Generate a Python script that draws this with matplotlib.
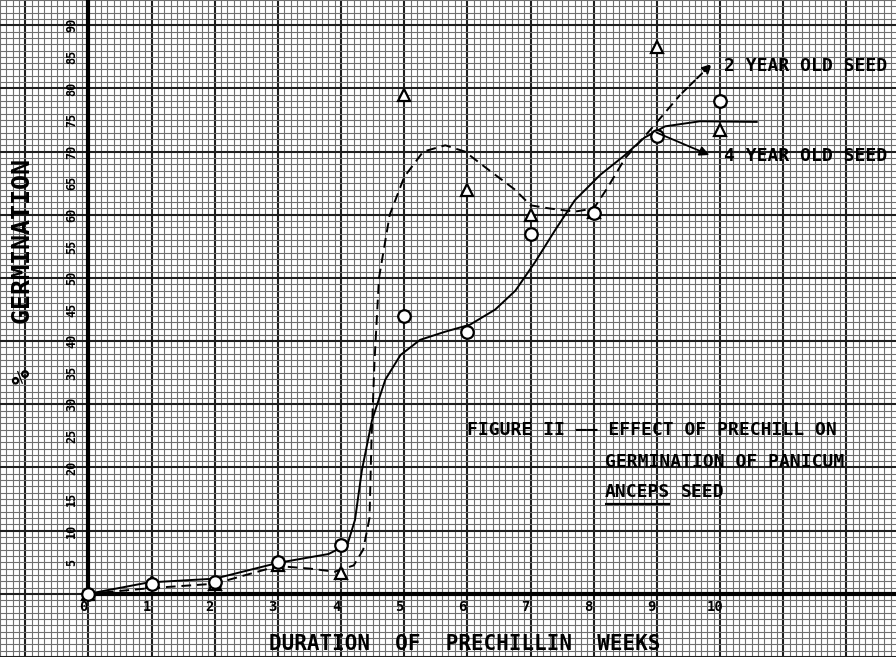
import numpy as np
from matplotlib import pyplot as plt

weeks = [0, 1, 2, 3, 4, 5, 6, 7, 8, 9, 10]
two_year_pts = [0, 1.8, 1.6, 4.5, 3.3, 79, 64, 60, 60.5, 86.5, 73.5]
four_year_pts = [0, 1.5, 1.9, 5.0, 7.8, 44, 41.5, 57, 60.3, 72.5, 78]

# hand drawn curves, traced point by point
two_year_curve_x = [0, 0.98, 2.0, 3.0, 3.5, 3.9, 4.2, 4.35, 4.45, 4.48, 4.53, 4.6,
                    4.77, 5.0, 5.3, 5.65, 5.96, 6.35, 6.75, 7.0, 7.3, 7.7, 8.0,
                    8.2, 8.5, 8.9, 9.37, 9.9]
two_year_curve_y = [0, 0.9, 1.6, 4.4, 4.0, 3.5, 4.5, 7.0, 12, 24, 37, 50,
                    60, 66, 70, 71, 70, 67, 64, 61.5, 61, 60.5, 61,
                    64, 69, 73.5, 79, 84.2]
four_year_curve_x = [0, 0.95, 2.0, 3.0, 3.8, 4.1, 4.22, 4.33, 4.49, 4.7, 4.94,
                     5.25, 5.65, 6.04, 6.44, 6.76, 7.07, 7.39, 7.7, 8.1, 8.5,
                     8.8, 9.13, 9.68, 10.58]
four_year_curve_y = [0, 1.8, 2.4, 4.9, 6.3, 7.8, 11.7, 19.6, 27.5, 33.9, 37.8,
                     40.2, 41.5, 42.6, 45, 48, 52.5, 57.6, 62.3, 66.3, 69.5,
                     72.2, 74, 74.8, 74.7]

x_ticks = list(range(0, 11))
y_ticks = list(range(5, 95, 5))

fig = plt.figure(figsize=(8.96, 6.57), dpi=100)
ax = fig.add_axes([0, 0, 1, 1])
xlo, xhi = -1.392, 12.785
ylo, yhi = -9.97, 94.0
ax.set_xlim(xlo, xhi)
ax.set_ylim(ylo, yhi)

# graph paper
ax.set_xticks(np.arange(-1, 13, 1))
ax.set_yticks(np.arange(-10, 100, 10))
ax.set_xticks(np.arange(-1.4, 12.8, 0.1), minor=True)
ax.set_yticks(np.arange(-10, 95, 1), minor=True)
ax.grid(which='minor', color='#707070', linewidth=0.8)
ax.grid(which='major', color='#1e1e1e', linewidth=1.5)
ax.tick_params(which='both', length=0, labelbottom=False, labelleft=False)
for s in ax.spines.values():
    s.set_visible(False)
ax.set_axisbelow(True)

# axes of the chart
ax.axvline(0, ymin=(0 - ylo) / (yhi - ylo), ymax=1, color='black', lw=3)
ax.axhline(0, xmin=(0 - xlo) / (xhi - xlo), xmax=1, color='black', lw=3)

mono = 'DejaVu Sans Mono'
for w in x_ticks:
    ax.text(w - 0.08, -2.1, str(w), ha='center', va='center', fontsize=10,
            family=mono, fontweight='bold')
for p in y_ticks:
    ax.text(-0.27, p, str(p), ha='center', va='center', fontsize=8.5,
            family=mono, rotation=90, fontweight='bold')

# curves
ax.plot(two_year_curve_x[:-1], two_year_curve_y[:-1], color='black', lw=1.4,
        linestyle=(0, (5, 3)))
ax.annotate('', xy=(two_year_curve_x[-1], two_year_curve_y[-1]),
            xytext=(two_year_curve_x[-2], two_year_curve_y[-2]),
            arrowprops=dict(arrowstyle='-|>', color='black', lw=1.4,
                            linestyle='--', mutation_scale=14))
ax.plot(four_year_curve_x, four_year_curve_y, color='black', lw=1.4)
ax.annotate('', xy=(9.87, 69.3), xytext=(8.95, 73.2),
            arrowprops=dict(arrowstyle='-|>', color='black', lw=1.3,
                            mutation_scale=14))

ax.plot(weeks, two_year_pts, linestyle='none', marker='^', markersize=9,
        markerfacecolor='white', markeredgecolor='black', markeredgewidth=1.6)
ax.plot(weeks, four_year_pts, linestyle='none', marker='o', markersize=9,
        markerfacecolor='white', markeredgecolor='black', markeredgewidth=1.6)

# labels
ax.text(10.06, 83.5, '2 YEAR OLD SEED', ha='left', va='center', fontsize=13,
        family=mono, fontweight='bold')
ax.text(10.06, 69.3, '4 YEAR OLD SEED', ha='left', va='center', fontsize=13,
        family=mono, fontweight='bold')

ax.text(6.0, 26.0, 'FIGURE II —— EFFECT OF PRECHILL ON', ha='left', va='center',
        fontsize=13, family=mono, fontweight='bold')
ax.text(8.18, 20.9, 'GERMINATION OF PANICUM', ha='left', va='center',
        fontsize=13, family=mono, fontweight='bold')
anceps = ax.text(8.18, 16.1, 'ANCEPS', ha='left', va='center',
                 fontsize=13, family=mono, fontweight='bold')

# underline under ANCEPS and the word SEED after it, from the rendered extent
fig.canvas.draw()
bb = anceps.get_window_extent().transformed(ax.transData.inverted())
ax.hlines(bb.y0 - 0.4, bb.x0, bb.x1, color='black', lw=1.6)
ax.text(bb.x1 + 0.17, 16.1, 'SEED', ha='left', va='center',
        fontsize=13, family=mono, fontweight='bold')

ax.text(5.95, -7.9, 'DURATION  OF  PRECHILLIN  WEEKS', ha='center', va='center',
        fontsize=15, family=mono, fontweight='bold')
ax.text(-1.04, 51, '%   GERMINATION', ha='center', va='center', rotation=90,
        fontsize=18, family=mono, fontweight='bold')

fig.savefig('out.png', dpi=100)
